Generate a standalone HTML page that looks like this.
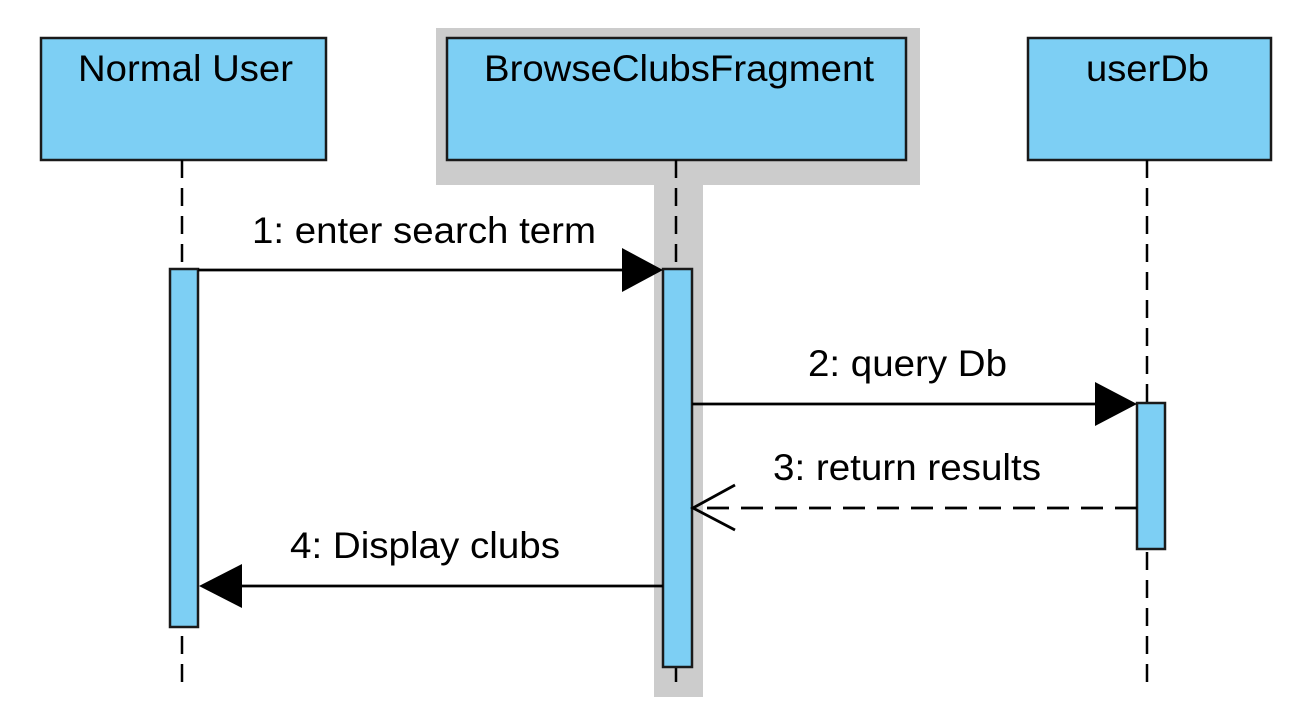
<!DOCTYPE html>
<html><head><meta charset="utf-8"><style>html,body{margin:0;padding:0;background:#fff}svg{display:block}</style></head>
<body>
<svg width="1309" height="703" viewBox="0 0 1309 703" xmlns="http://www.w3.org/2000/svg" font-family="Liberation Sans, Arial, sans-serif" font-size="37" fill="#000">
<rect x="436" y="28" width="484" height="157" fill="#cccccc"/>
<rect x="654" y="185" width="49" height="512" fill="#cccccc"/>
<g fill="#7dcff4" stroke="#1a1a1a" stroke-width="2.5">
<rect x="41" y="38" width="285" height="122"/>
<rect x="447" y="38" width="459" height="122"/>
<rect x="1028" y="38" width="243" height="122"/>
</g>
<text x="78" y="81" textLength="215" lengthAdjust="spacingAndGlyphs">Normal User</text>
<text x="484" y="81" textLength="390" lengthAdjust="spacingAndGlyphs">BrowseClubsFragment</text>
<text x="1086" y="81" textLength="123" lengthAdjust="spacingAndGlyphs">userDb</text>
<g stroke="#000" stroke-width="2.5" stroke-dasharray="18,10">
<line x1="182" y1="160" x2="182" y2="686"/>
<line x1="676" y1="160" x2="676" y2="686"/>
<line x1="1147" y1="160" x2="1147" y2="686"/>
</g>
<g fill="#7dcff4" stroke="#1a1a1a" stroke-width="2.5">
<rect x="170" y="269" width="28" height="358"/>
<rect x="663" y="269" width="29" height="398"/>
<rect x="1137" y="403" width="28" height="146"/>
</g>
<g stroke="#000" stroke-width="2.8">
<line x1="198" y1="270" x2="625" y2="270"/>
<line x1="692" y1="404" x2="1097" y2="404"/>
<line x1="1137" y1="508" x2="694" y2="508" stroke-dasharray="22,12"/>
<polyline points="735,485 693,508 735,530" fill="none"/>
<line x1="663" y1="586" x2="240" y2="586"/>
</g>
<polygon points="622,248 663,270 622,292" fill="#000"/>
<polygon points="1095,382 1137,404 1095,426" fill="#000"/>
<polygon points="242,564 199,586 242,608" fill="#000"/>
<text x="252" y="243" textLength="344" lengthAdjust="spacingAndGlyphs">1: enter search term</text>
<text x="808" y="376" textLength="199" lengthAdjust="spacingAndGlyphs">2: query Db</text>
<text x="773" y="480" textLength="268" lengthAdjust="spacingAndGlyphs">3: return results</text>
<text x="290" y="558" textLength="270" lengthAdjust="spacingAndGlyphs">4: Display clubs</text>
</svg>
</body></html>
